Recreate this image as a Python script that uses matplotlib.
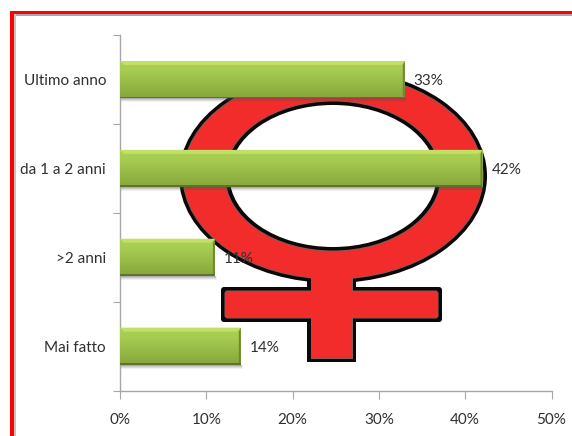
import numpy as np
import matplotlib
matplotlib.use("Agg")
import matplotlib.pyplot as plt
from matplotlib.patches import Ellipse, Rectangle, FancyBboxPatch, Polygon

categorie = ["Ultimo anno", "da 1 a 2 anni", ">2 anni", "Mai fatto"]
valori = [33, 42, 11, 14]
etichette = ["33%", "42%", "11%", "14%"]
tacche_x = [0, 10, 20, 30, 40, 50]

plt.rcParams["font.family"] = ["Lato", "DejaVu Sans"]

W, H = 572, 436
fig = plt.figure(figsize=(W / 100, H / 100), dpi=100, facecolor="white")

# sfondo in coordinate pixel: cornice e simbolo femminile
bg = fig.add_axes([0, 0, 1, 1], zorder=0)
bg.set_xlim(0, W)
bg.set_ylim(H, 0)
bg.axis("off")

ROSSO = "#f22b2b"
NERO = "#0c0808"


def simbolo(colore, extra):
    # stesso disegno usato per il contorno nero e per il riempimento rosso
    bg.add_patch(Ellipse((333, 176), 2 * (154 + extra), 2 * (107 + extra), fc=colore, ec="none"))
    bg.add_patch(Rectangle((307 - extra, 260), 49 + 2 * extra, 102 + extra, fc=colore, ec="none"))
    bg.add_patch(FancyBboxPatch((221 - extra, 287 - extra), 221 + 2 * extra, 35 + 2 * extra,
                                boxstyle="round,pad=0,rounding_size=3", fc=colore, ec="none"))


simbolo(NERO, 0)
simbolo("#8a5a5a", -3.5)
simbolo(ROSSO, -4.5)
bg.add_patch(Ellipse((333, 176), 2 * 108.5, 2 * 75.5, fc="#8a5a5a", ec="none"))
bg.add_patch(Ellipse((333, 176), 2 * 107.5, 2 * 74.5, fc=NERO, ec="none"))
bg.add_patch(Ellipse((333, 176), 2 * 103.5, 2 * 71, fc="white", ec="none"))

# cornice rossa aperta in basso e a destra
bg.add_patch(Rectangle((14, 14), W, 2, fc="#a8a8a8", ec="none"))
bg.add_patch(Rectangle((14, 14), 2, H, fc="#c4c4c4", ec="none"))
bg.add_patch(Rectangle((10, 11), W, 3.5, fc="#ff0000", ec="none"))
bg.add_patch(Rectangle((10, 11), 4, H, fc="#ff0000", ec="none"))

ax = fig.add_axes([120 / W, 1 - 390.5 / H, 431.5 / W, 355.5 / H], zorder=2)
ax.patch.set_alpha(0)

y = np.arange(len(categorie))
barre = ax.barh(y, valori, height=0.415, color="#98b848", zorder=3)

ax.set_xlim(0, 50)
ax.set_ylim(3.5, -0.5)

# gradiente verticale e smussi delle barre
stops = np.array([[0.67, 0.82, 0.34], [0.65, 0.80, 0.32], [0.61, 0.75, 0.29],
                  [0.57, 0.70, 0.26], [0.53, 0.65, 0.24]])
grad = np.stack([np.interp(np.linspace(0, 1, 64), np.linspace(0, 1, 5), stops[:, i]) for i in range(3)], axis=1)
dx, dy = 4 / 431.5 * 50, 4 / 88.9

for b in barre:
    x0, y0, w, h = b.get_x(), b.get_y(), b.get_width(), b.get_height()
    x1, y1 = x0 + w, y0 + h
    # ombra morbida sotto la barra
    for k, a in zip([4, 3, 2, 1], [0.08, 0.12, 0.16, 0.22]):
        ax.add_patch(Rectangle((x0, y1), w + k * dx / 8, k * dy / 4, fc="#555555", ec="none", alpha=a, zorder=2))
    ax.imshow(grad[:, None, :], extent=(x0, x1, y1, y0), aspect="auto", zorder=4)
    ax.add_patch(Polygon([(x0, y0), (x1, y0), (x1 - dx, y0 + dy), (x0 + dx, y0 + dy)], fc="#c2df68", ec="none", zorder=5))
    ax.add_patch(Polygon([(x1, y0), (x1, y1), (x1 - dx / 2, y1 - dy / 2), (x1 - dx / 2, y0 + dy)], fc="#6f8734", ec="none", zorder=5))
    ax.add_patch(Rectangle((x0, y1 - dy / 3), w, dy / 3, fc="#5f722e", ec="none", zorder=5))

ax.set_xlim(0, 50)
ax.set_ylim(3.5, -0.5)

for v, yy, t in zip(valori, y, etichette):
    ax.annotate(t, (v, yy), xytext=(9, -2), textcoords="offset pixels", va="center", ha="left",
                fontsize=11, color="#303030", zorder=6)

for lato in ["top", "right"]:
    ax.spines[lato].set_visible(False)
for lato in ["left", "bottom"]:
    ax.spines[lato].set_color("#a6a6a6")
    ax.spines[lato].set_linewidth(1)

ax.set_xticks(tacche_x)
ax.set_xticklabels([f"{t}%" for t in tacche_x])
ax.set_yticks(np.arange(-0.5, 4))
ax.set_yticklabels([])
ax.set_yticks(y, minor=True)
ax.set_yticklabels(categorie, minor=True)
ax.tick_params(axis="y", which="minor", length=0, pad=10, labelsize=11, labelcolor="#303030")
ax.tick_params(axis="y", which="major", length=5, color="#a6a6a6")
ax.tick_params(axis="x", length=6, color="#a6a6a6", pad=10, labelsize=11, labelcolor="#303030")

fig.savefig("out.png", dpi=100)
